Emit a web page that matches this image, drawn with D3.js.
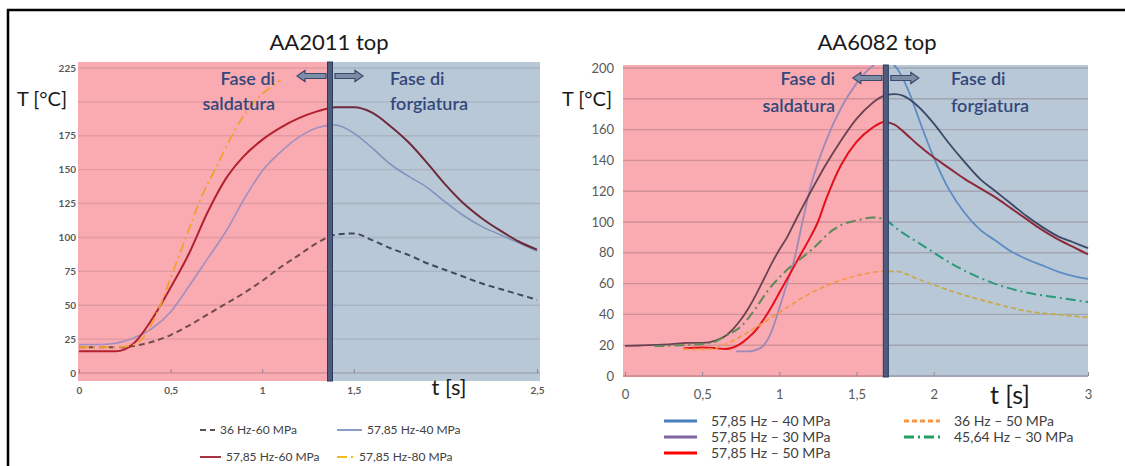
<!DOCTYPE html>
<html>
<head>
<meta charset="utf-8">
<script src="https://cdn.jsdelivr.net/npm/d3@7"></script>
<style>
  body { margin: 0; background: #fff; }
  svg { display: block; font-family: Lato, "Open Sans", sans-serif; }
</style>
</head>
<body>
<svg id="chart" width="1125" height="466"></svg>
<script>
// ---------- AA2011 top ----------
const aa2011Title = "AA2011 top";
const aa2011XTicks = [0, 0.5, 1, 1.5, 2.5];
const aa2011YGrid = [0, 25, 50, 75, 100, 125, 150, 175, 200, 225];
const aa2011YLabels = [0, 25, 50, 75, 100, 125, 150, 175, 225];   // 200 sits under the axis title
const aa2011PhaseSplit = 1.37;   // end of welding phase [s]

const aa2011Time = [0,0.1,0.2,0.3,0.4,0.5,0.6,0.7,0.8,0.9,1.0,1.1,1.2,1.3,1.4,1.5,1.6,1.7,1.8,1.9,2.0,2.1,2.2,2.3,2.4,2.5];
const aa2011_36Hz60 = [19,19,19,20,23,28,35,43,51,59,68,78,87,96,102,103,98,92,87,81,76,71,66,62,58,54];
const aa2011_5785Hz40 = [21,21,22,26,33,45,64,84,104,128,149,163,174,181,183,177,166,154,145,137,126,116,108,102,96,90];
const aa2011_5785Hz60 = [16,16,16,22,40,63,88,118,143,160,172,181,188,193,196,196,192,182,170,155,139,125,114,105,97,91];
const aa2011Time80 = [0,0.1,0.2,0.3,0.35,0.4,0.45,0.5,0.55,0.6,0.65,0.7,0.75,0.8,0.85,0.9,0.95,1.0,1.05,1.1];
const aa2011_5785Hz80 = [19,19,19,21,26,37,52,70,88,106,124,139,152,166,179,190,199,206,211,216];

// ---------- AA6082 top ----------
const aa6082Title = "AA6082 top";
const aa6082XTicks = [0, 0.5, 1, 1.5, 2, 3];
const aa6082YGrid = [0, 20, 40, 60, 80, 100, 120, 140, 160, 180, 200];
const aa6082YLabels = [0, 20, 40, 60, 80, 100, 120, 140, 160, 200];   // 180 sits under the axis title
const aa6082PhaseSplit = 1.69;

const aa6082Time40 = [0.72,0.8,0.85,0.9,0.95,1.0,1.05,1.1,1.15,1.2,1.3,1.4,1.5,1.6,1.68,1.76,1.85,1.9,2.0,2.1,2.2,2.3,2.4,2.5,2.6,2.7,2.8,2.9,3.0];
const aa6082_5785Hz40 = [16,16,17,20,29,44,60,77,100,122,152,174,190,201,205,200,182,168,142,121,106,95,88,81,76,72,68,65,63];
const aa6082Time30 = [0,0.1,0.2,0.3,0.4,0.5,0.55,0.6,0.65,0.7,0.75,0.8,0.85,0.9,0.95,1.0,1.05,1.1,1.2,1.3,1.4,1.5,1.6,1.68,1.75,1.8,1.9,2.0,2.1,2.2,2.3,2.4,2.5,2.6,2.7,2.8,2.9,3.0];
const aa6082_5785Hz30 = [19.5,19.8,20.2,20.7,21.5,21.5,22,23.5,26,30.5,36.5,44,53,63,73,82,90,100,119,137,153,167,177,182,183,182,175,164,151,139,128,120,112,104,97,91,87,83];
const aa6082Time50 = [0.38,0.5,0.6,0.65,0.7,0.75,0.8,0.85,0.9,0.95,1.0,1.05,1.1,1.15,1.2,1.25,1.3,1.4,1.5,1.6,1.68,1.75,1.8,1.9,2.0,2.1,2.2,2.3,2.4,2.5,2.6,2.7,2.8,2.9,3.0];
const aa6082_5785Hz50 = [18,18.5,18,17.5,18.5,21,25,30,37,45,54,63,72,81,90,100,114,137,152,161,165,163,159,150,142,135,128,122,116,109,102,95,89,84,79];
const aa6082Time36 = [0.38,0.45,0.56,0.65,0.79,0.98,1.17,1.35,1.54,1.68,1.75,1.91,2.15,2.38,2.61,2.8,3.0];
const aa6082_36Hz50 = [17.5,17.3,17.5,20.5,28,40,52,60.5,66,68,68,62.5,54,47.5,42,40,38];
const aa6082Time45 = [0.19,0.37,0.56,0.65,0.75,0.84,0.93,1.03,1.21,1.35,1.4,1.5,1.61,1.7,1.77,1.91,2.15,2.38,2.61,2.8,3.0];
const aa6082_4564Hz30 = [19.4,20,21.6,26,32,43,56,67,82,95,98,101,103,100.5,95,86,71,60.5,54,51,48];

const phaseLeft = ["Fase di", "saldatura"];
const phaseRight = ["Fase di", "forgiatura"];
const yTitle = "T [°C]";
const xTitle = "t [s]";

// ---------- drawing ----------
const svg = d3.select("#chart");
const comma = d3.formatLocale({decimal: ",", thousands: ".", grouping: [3], currency: ["", "€"]}).format("~g");
const zip = (ts, vs) => ts.map((t, i) => ({t, v: vs[i]}));

// frame
svg.append("path").attr("d", "M8,466 V10 H1125").attr("fill", "none")
  .attr("stroke", "#000").attr("stroke-width", 2.5);

const panels = [
  {
    id: "p2011", title: aa2011Title, titleX: 329, titleY: 42,
    x: d3.scaleLinear([0, 2.5], [79, 537]), y: d3.scaleLinear([0, 225], [373, 68]),
    xTicks: aa2011XTicks, yGrid: aa2011YGrid, yLabels: aa2011YLabels, split: aa2011PhaseSplit,
    box: {x0: 78, x1: 540, y0: 62, y1: 381}, arrowY: 76, gridOpacity: 0.15,
    tickFont: 10, tickWeight: 700, yLabelX: 76, xLabelY: 390,
    yTitleX: 42, yTitleY: 99, xTitleX: 449, xTitleY: 387, xTitleSize: 22,
    phaseLX: 275, phaseRX: 390, phaseY: [79, 104],
    series: [
      {name: "36 Hz-60 MPa", data: zip(aa2011Time, aa2011_36Hz60), cl: "#6e4b52", cr: "#3e4a60", lg: "#5a4f55", dash: "6,4", w: 2},
      {name: "57,85 Hz-40 MPa", data: zip(aa2011Time, aa2011_5785Hz40), cl: "#a08fbf", cr: "#8293bd", lg: "#8c9cc8", dash: null, w: 1.6},
      {name: "57,85 Hz-60 MPa", data: zip(aa2011Time, aa2011_5785Hz60), cl: "#b3202e", cr: "#6e2a3c", lg: "#a83440", dash: null, w: 2},
      {name: "57,85 Hz-80 MPa", data: zip(aa2011Time80, aa2011_5785Hz80), cl: "#f0a030", cr: "#d0a040", lg: "#f5b820", dash: "10,4,2,4", w: 1.8}
    ],
    legend: {font: 12, items: [
      {i: 0, lx: 200, ly: 430, len: 15}, {i: 1, lx: 337, ly: 430, len: 25},
      {i: 2, lx: 200, ly: 457, len: 21}, {i: 3, lx: 337, ly: 457, len: 17}
    ], textGap: 5}
  },
  {
    id: "p6082", title: aa6082Title, titleX: 877, titleY: 42,
    x: d3.scaleLinear([0, 3], [625, 1088]), y: d3.scaleLinear([0, 200], [376, 68]),
    xTicks: aa6082XTicks, yGrid: aa6082YGrid, yLabels: aa6082YLabels, split: aa6082PhaseSplit,
    box: {x0: 623, x1: 1088, y0: 65, y1: 377}, arrowY: 78, gridOpacity: 0.24,
    tickFont: 13, tickWeight: 400, yLabelX: 614, xLabelY: 394,
    yTitleX: 587, yTitleY: 99, xTitleX: 1010, xTitleY: 395, xTitleSize: 25,
    phaseLX: 835, phaseRX: 951, phaseY: [79, 106],
    series: [
      {name: "57,85 Hz – 40 MPa", data: zip(aa6082Time40, aa6082_5785Hz40), cl: "#9d8ab8", cr: "#5d8cc4", lg: "#4a7ebb", dash: null, w: 1.8},
      {name: "57,85 Hz – 30 MPa", data: zip(aa6082Time30, aa6082_5785Hz30), cl: "#6a4252", cr: "#3b4868", lg: "#8064a2", dash: null, w: 1.8},
      {name: "57,85 Hz – 50 MPa", data: zip(aa6082Time50, aa6082_5785Hz50), cl: "#e5101c", cr: "#8c2a3a", lg: "#ff0000", dash: null, w: 2},
      {name: "36 Hz – 50 MPa", data: zip(aa6082Time36, aa6082_36Hz50), cl: "#f39a48", cr: "#c9a848", lg: "#f79646", dash: "5,3", w: 1.8},
      {name: "45,64 Hz – 30 MPa", data: zip(aa6082Time45, aa6082_4564Hz30), cl: "#5e8858", cr: "#2a9a78", lg: "#22a060", dash: "10,4,2,4", w: 2}
    ],
    legend: {font: 14, items: [
      {i: 0, lx: 664, ly: 421, len: 33}, {i: 3, lx: 904, ly: 421, len: 36},
      {i: 1, lx: 664, ly: 437, len: 33}, {i: 4, lx: 904, ly: 437, len: 36},
      {i: 2, lx: 664, ly: 453, len: 33}
    ], textGap: 14}
  }
];

panels.forEach(p => {
  const g = svg.append("g");
  const xs = p.x(p.split);
  const b = p.box;

  // phase shading
  g.append("rect").attr("x", b.x0).attr("y", b.y0).attr("width", xs - b.x0).attr("height", b.y1 - b.y0).attr("fill", "#f9abb1");
  g.append("rect").attr("x", xs).attr("y", b.y0).attr("width", b.x1 - xs).attr("height", b.y1 - b.y0).attr("fill", "#b8c8d6");

  // horizontal gridlines
  g.append("g").selectAll("line").data(p.yGrid).join("line")
    .attr("x1", b.x0).attr("x2", b.x1)
    .attr("y1", d => p.y(d)).attr("y2", d => p.y(d))
    .attr("stroke", "#5a3a48").attr("stroke-opacity", d => d === 0 ? p.gridOpacity + 0.07 : p.gridOpacity)
    .attr("stroke-width", 1.4);

  // axes (labels only)
  const yAxis = g.append("g").attr("transform", `translate(${p.yLabelX},0)`)
    .call(d3.axisLeft(p.y).tickValues(p.yLabels).tickSize(0).tickPadding(0).tickFormat(comma));
  yAxis.select(".domain").remove();
  yAxis.selectAll("text").attr("fill", "#595959").attr("font-size", p.tickFont).attr("font-weight", p.tickWeight)
    .attr("font-family", "Lato, sans-serif");

  const xAxis = g.append("g").attr("transform", `translate(0,${p.y(0)})`)
    .call(d3.axisBottom(p.x).tickValues(p.xTicks).tickSize(-4).tickPadding(0).tickFormat(comma));
  xAxis.select(".domain").remove();
  xAxis.selectAll("line").attr("stroke", "#8a8a9a");
  xAxis.selectAll("text").attr("y", p.xLabelY - p.y(0)).attr("dy", "0.35em")
    .attr("fill", "#595959").attr("font-size", p.tickFont).attr("font-weight", p.tickWeight)
    .attr("font-family", "Lato, sans-serif");

  // clip regions: before and after the phase change
  const defs = svg.append("defs");
  defs.append("clipPath").attr("id", p.id + "L").append("rect")
    .attr("x", b.x0 - 10).attr("y", b.y0).attr("width", xs - b.x0 + 10).attr("height", b.y1 - b.y0 + 10);
  defs.append("clipPath").attr("id", p.id + "R").append("rect")
    .attr("x", xs).attr("y", b.y0).attr("width", b.x1 - xs + 10).attr("height", b.y1 - b.y0 + 10);

  const line = d3.line().x(d => p.x(d.t)).y(d => p.y(d.v)).curve(d3.curveMonotoneX);
  ["L", "R"].forEach(side => {
    const lg = g.append("g").attr("clip-path", `url(#${p.id}${side})`);
    lg.selectAll("path").data(p.series).join("path")
      .attr("d", s => line(s.data))
      .attr("fill", "none")
      .attr("stroke", s => side === "L" ? s.cl : s.cr)
      .attr("stroke-width", s => s.w)
      .attr("stroke-dasharray", s => s.dash)
      .attr("stroke-linejoin", "round");
  });

  // phase divider
  g.append("rect").attr("x", xs - 2.5).attr("y", b.y0).attr("width", 5).attr("height", b.y1 - b.y0)
    .attr("fill", "#4d5d80").attr("stroke", "#2c3a5a").attr("stroke-width", 1);

  // block arrows
  const arrow = (tip, tail, cy) => {
    const dir = Math.sign(tail - tip), hl = 8;
    return `M${tip},${cy} L${tip + dir * hl},${cy - 5.5} L${tip + dir * hl},${cy - 2.5} L${tail},${cy - 2.5}` +
           ` L${tail},${cy + 2.5} L${tip + dir * hl},${cy + 2.5} L${tip + dir * hl},${cy + 5.5} Z`;
  };
  g.append("path").attr("d", arrow(xs - 33, xs - 4, p.arrowY)).attr("fill", "#7d8da8").attr("stroke", "#3b4a6b").attr("stroke-width", 1.2);
  g.append("path").attr("d", arrow(xs + 33, xs + 5, p.arrowY)).attr("fill", "#7d8da8").attr("stroke", "#3b4a6b").attr("stroke-width", 1.2);

  // phase labels
  const phase = (lines, x, anchor) => lines.forEach((t, i) =>
    g.append("text").attr("x", x).attr("y", p.phaseY[i]).attr("dy", "0.35em")
      .attr("text-anchor", anchor).attr("font-size", 18).attr("font-weight", 600)
      .attr("fill", "#34477a").text(t));
  phase(phaseLeft, p.phaseLX, "end");
  phase(phaseRight, p.phaseRX, "start");

  // titles
  g.append("text").attr("x", p.titleX).attr("y", p.titleY).attr("dy", "0.35em").attr("text-anchor", "middle")
    .attr("font-size", 22).attr("fill", "#1a1a1a").text(p.title);
  g.append("text").attr("x", p.yTitleX).attr("y", p.yTitleY).attr("dy", "0.35em").attr("text-anchor", "middle")
    .attr("font-size", 20).attr("fill", "#1a1a1a").text(yTitle);
  g.append("text").attr("x", p.xTitleX).attr("y", p.xTitleY).attr("dy", "0.35em").attr("text-anchor", "middle")
    .attr("font-size", p.xTitleSize).attr("fill", "#1a1a1a").text(xTitle);

  // legend
  const leg = g.append("g");
  p.legend.items.forEach(it => {
    const s = p.series[it.i];
    leg.append("line").attr("x1", it.lx).attr("x2", it.lx + it.len).attr("y1", it.ly).attr("y2", it.ly)
      .attr("stroke", s.lg).attr("stroke-width", p.legend.font > 12 ? 3 : 2).attr("stroke-dasharray", s.dash);
    leg.append("text").attr("x", it.lx + it.len + p.legend.textGap).attr("y", it.ly).attr("dy", "0.35em")
      .attr("font-size", p.legend.font).attr("fill", "#404040").text(s.name);
  });
});
</script>
</body>
</html>
